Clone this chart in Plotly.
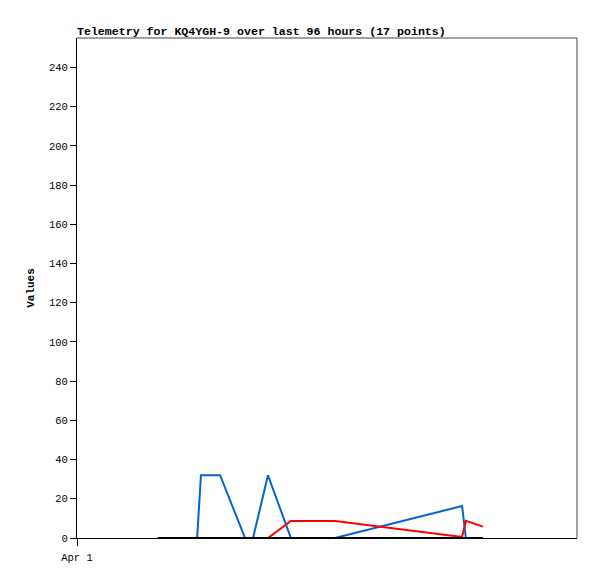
import plotly.graph_objects as go

times = ["2024-04-01 03:53", "2024-04-01 05:46", "2024-04-01 05:57", "2024-04-01 06:52",
         "2024-04-01 08:04", "2024-04-01 08:27", "2024-04-01 09:10", "2024-04-01 10:16",
         "2024-04-01 12:23", "2024-04-01 18:29", "2024-04-01 18:40", "2024-04-01 19:29"]
blue_vals = [0, 0, 32, 32, 0, 0, 32, 0, 0, 16.3, 0, 0]
red_vals = [0, 0, 0, 0, 0, 0, 0, 8.7, 8.7, 0.5, 8.8, 5.8]
black_vals = [0] * len(times)

x_range = ["2024-04-01 00:00", "2024-04-02 00:00"]
tick_vals = ["2024-04-01 00:00"]
tick_text = ["Apr 1"]

MONO = "Liberation Mono, DejaVu Sans Mono, monospace"

# page body has an 8px default margin; size the figure to fit inside the window
W, H = 581, 563

fig = go.Figure()
fig.add_trace(go.Scatter(x=times, y=blue_vals, mode="lines",
                         line=dict(color="#0066CC", width=2), showlegend=False))
fig.add_trace(go.Scatter(x=times, y=red_vals, mode="lines",
                         line=dict(color="#FF0000", width=2), showlegend=False))
fig.add_trace(go.Scatter(x=times, y=black_vals, mode="lines",
                         line=dict(color="#000000", width=2), showlegend=False))

fig.update_layout(
    width=W, height=H,
    margin=dict(l=69, r=12, t=30, b=33, autoexpand=False),
    paper_bgcolor="white", plot_bgcolor="white",
    title=dict(text="<b>Telemetry for KQ4YGH-9 over last 96 hours (17 points)</b>",
               x=0, xref="paper", xanchor="left",
               y=1 - 23 / H, yref="container", yanchor="middle",
               font=dict(family=MONO, size=11.6, color="black")),
    font=dict(family=MONO, size=10, color="black"),
)
fig.update_xaxes(type="date", range=x_range, tickvals=tick_vals, ticktext=tick_text,
                 showgrid=False, zeroline=False, showline=True, linecolor="black",
                 linewidth=1, ticks="outside", ticklen=7, tickcolor="black",
                 ticklabelstandoff=2, automargin=False,
                 tickfont=dict(family=MONO, size=10.5, color="black"))
fig.update_yaxes(range=[0, 255], dtick=20, tick0=0,
                 showgrid=False, zeroline=False, showline=True, linecolor="black",
                 linewidth=1, ticks="outside", ticklen=6, tickcolor="black",
                 automargin=False,
                 tickfont=dict(family=MONO, size=10.5, color="black"),
                 title=dict(text="<b>Values</b>", standoff=12,
                            font=dict(family=MONO, size=11, color="black")))
# top and right frame
fig.add_shape(type="line", xref="paper", yref="paper", x0=0, x1=1, y0=1, y1=1,
              line=dict(color="#444444", width=1))
fig.add_shape(type="line", xref="paper", yref="paper", x0=1, x1=1, y0=0, y1=1,
              line=dict(color="#444444", width=1))

fig.write_html("out.html")
